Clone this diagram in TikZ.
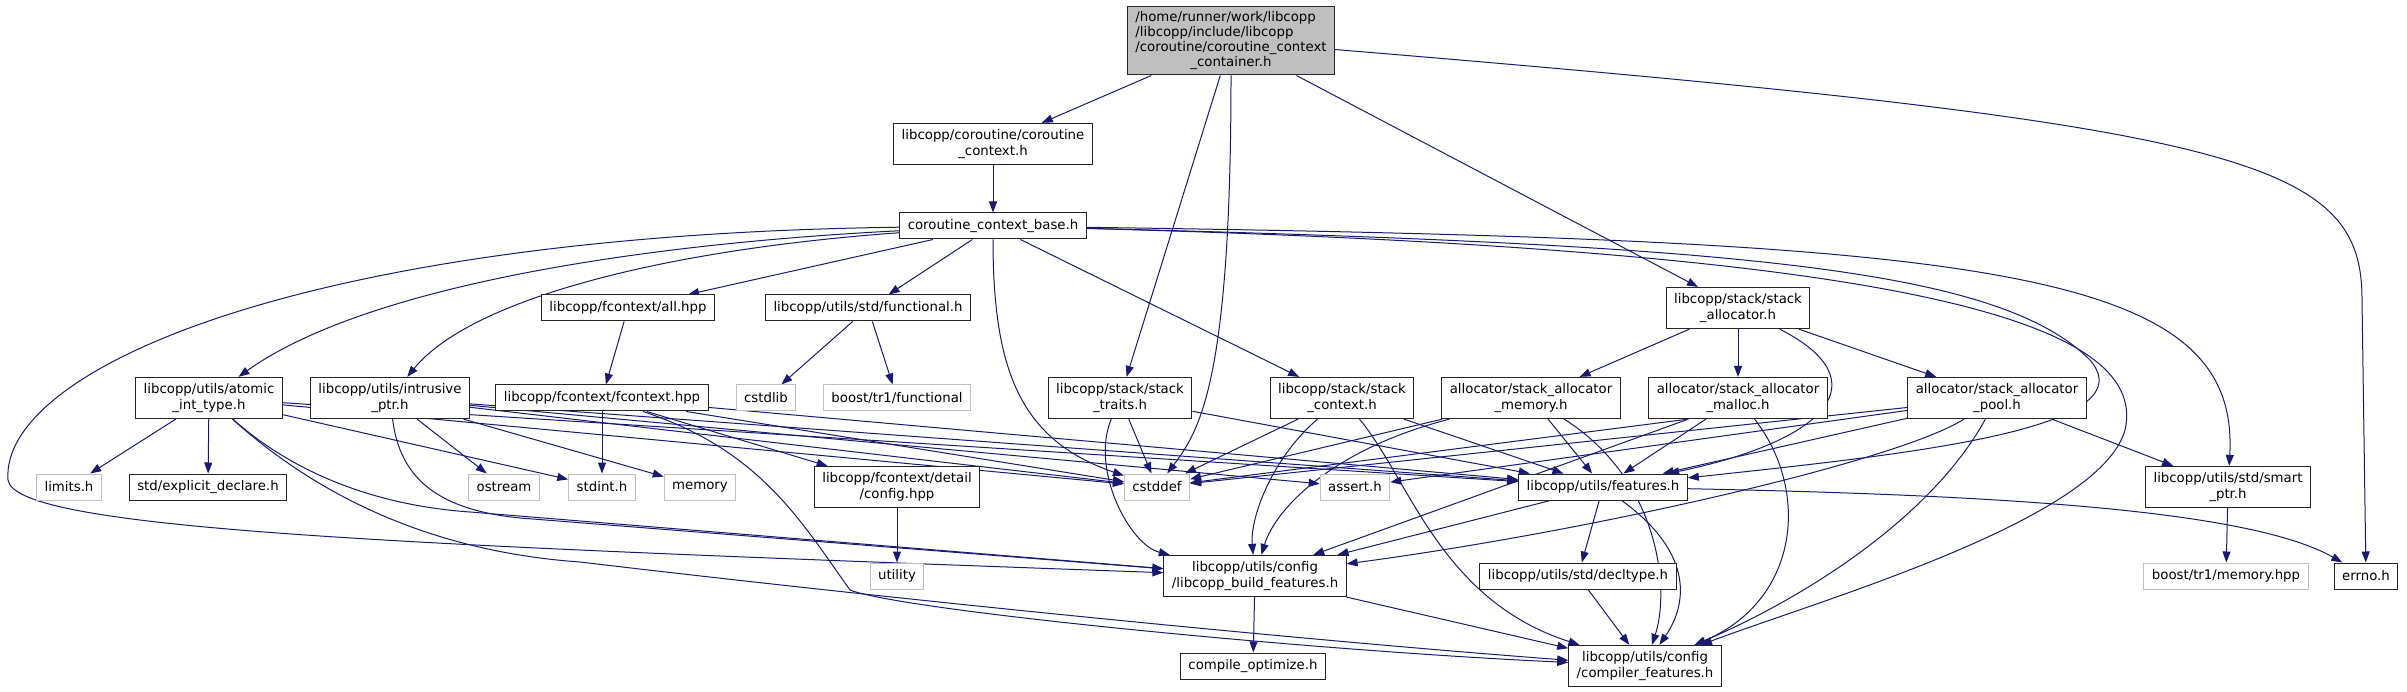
\documentclass[tikz,border=0pt]{standalone}
\usepackage{fontspec}
\setmainfont{DejaVu Sans}
\usepackage{tikz}
\usetikzlibrary{arrows.meta,backgrounds}

\definecolor{navy}{HTML}{191970}
\tikzset{
  inc/.style={draw=black!85, line width=1pt, fill=white, inner xsep=8pt, inner ysep=6pt,
    minimum height=26pt, align=center, font=\fontsize{13.3}{16}\selectfont},
  sys/.style={inc, draw=gray!50},
  rootnode/.style={inc, fill=gray!50, inner ysep=4pt, font=\fontsize{13.3}{15}\selectfont},
  edge/.style={draw=navy, line width=1pt, -{Triangle[length=11pt,width=8pt]}}
}

\begin{document}
\begin{tikzpicture}[x=1pt, y=-1pt]
            \useasboundingbox (0,0) rectangle (2407,692);

            % Top
            \node[rootnode] (root) at (1231,41) {\begin{tabular}{@{}l@{}}/home/runner/work/libcopp\\/libcopp/include/libcopp\\/coroutine/coroutine\_context\\\multicolumn{1}{@{}c@{}}{\_container.h}\end{tabular}};
            \node[inc] (ctx) at (993,144) {libcopp/coroutine/coroutine\\\_context.h};
            \node[inc] (ctxbase) at (993,226) {coroutine\_context\_base.h};

            % Second row
            \node[inc] (allhpp) at (628,308) {libcopp/fcontext/all.hpp};
            \node[inc] (functional) at (868,308) {libcopp/utils/std/functional.h};
            \node[inc] (stackalloc) at (1738,308) {libcopp/stack/stack\\\_allocator.h};

            % Third row
            \node[inc] (atomicint) at (209,398) {libcopp/utils/atomic\\\_int\_type.h};
            \node[inc] (intrusive) at (390,398) {libcopp/utils/intrusive\\\_ptr.h};
            \node[inc] (fcontext) at (602,398) {libcopp/fcontext/fcontext.hpp};
            \node[sys] (cstdlib) at (766,398) {cstdlib};
            \node[sys] (boostfunc) at (897,398) {boost/tr1/functional};
            \node[inc] (stacktraits) at (1120,398) {libcopp/stack/stack\\\_traits.h};
            \node[inc] (stackctx) at (1342,398) {libcopp/stack/stack\\\_context.h};
            \node[inc] (allocmem) at (1531,398) {allocator/stack\_allocator\\\_memory.h};
            \node[inc] (allocmalloc) at (1738,398) {allocator/stack\_allocator\\\_malloc.h};
            \node[inc] (allocpool) at (1997,398) {allocator/stack\_allocator\\\_pool.h};

            % Fourth row
            \node[sys] (limits) at (69,487) {limits.h};
            \node[inc] (explicitdecl) at (208,487) {std/explicit\_declare.h};
            \node[sys] (ostream) at (504,487) {ostream};
            \node[sys] (stdint) at (602,487) {stdint.h};
            \node[sys] (memory) at (700,487) {memory};
            \node[inc] (detailcfg) at (897,487) {libcopp/fcontext/detail\\/config.hpp};
            \node[sys] (cstddef) at (1157,487) {cstddef};
            \node[sys] (assert) at (1355,487) {assert.h};
            \node[inc] (features) at (1603,487) {libcopp/utils/features.h};
            \node[inc] (smartptr) at (2228,487) {libcopp/utils/std/smart\\\_ptr.h};

            % Fifth row
            \node[sys] (utility) at (897,576) {utility};
            \node[inc] (buildfeat) at (1255,576) {libcopp/utils/config\\/libcopp\_build\_features.h};
            \node[inc] (decltype) at (1578,576) {libcopp/utils/std/decltype.h};
            \node[sys] (boostmem) at (2226,576) {boost/tr1/memory.hpp};
            \node[inc] (errno) at (2366,576) {errno.h};

            % Bottom
            \node[inc] (compopt) at (1253,666) {compile\_optimize.h};
            \node[inc] (compfeat) at (1645,666) {libcopp/utils/config\\/compiler\_features.h};

            \begin{scope}[on background layer]
            % Root includes
            \draw[edge] (root) -- (ctx);
            \draw[edge] (root) -- (stacktraits);
            \draw[edge] (root) .. controls (1231,380) and (1200,430) .. (cstddef);
            \draw[edge] (root) -- (stackalloc);
            \draw[edge] (root) .. controls (2250,125) and (2362,160) .. (2362,300) -- (errno);
            \draw[edge] (ctx) -- (ctxbase);

            % coroutine_context_base.h
            \draw[edge] (ctxbase) -- (allhpp);
            \draw[edge] (ctxbase) -- (functional);
            \draw[edge] (ctxbase) .. controls (620,245) and (360,290) .. (atomicint);
            \draw[edge] (ctxbase) .. controls (660,250) and (470,300) .. (intrusive);
            \draw[edge] (ctxbase) .. controls (300,235) and (0,370) .. (8,480) .. controls (15,530) and (400,545) .. (buildfeat);
            \draw[edge] (ctxbase) .. controls (993,370) and (1020,440) .. (cstddef);
            \draw[edge] (ctxbase) -- (stackctx);
            \draw[edge] (ctxbase) .. controls (1750,245) and (2000,270) .. (2090,360) .. controls (2150,430) and (1900,455) .. (features);
            \draw[edge] (ctxbase) .. controls (2000,240) and (2240,270) .. (smartptr);
            \draw[edge] (ctxbase) .. controls (1900,250) and (2150,320) .. (2125,430) .. controls (2100,520) and (1820,600) .. (compfeat);
            \draw[edge] (allhpp) -- (fcontext);
            \draw[edge] (functional) -- (cstdlib);
            \draw[edge] (functional) -- (boostfunc);

            % atomic_int_type.h, intrusive_ptr.h
            \draw[edge] (atomicint) -- (limits);
            \draw[edge] (atomicint) -- (explicitdecl);
            \draw[edge] (atomicint) -- (stdint);
            \draw[edge] (atomicint) -- (cstddef);
            \draw[edge] (atomicint) -- (features);
            \draw[edge] (atomicint) .. controls (290,470) and (370,505) .. (470,512) -- (buildfeat);
            \draw[edge] (atomicint) .. controls (300,480) and (410,550) .. (580,562) .. controls (900,600) and (1300,640) .. (compfeat);
            \draw[edge] (intrusive) -- (ostream);
            \draw[edge] (intrusive) -- (memory);
            \draw[edge] (intrusive) -- (cstddef);
            \draw[edge] (intrusive) -- (assert);
            \draw[edge] (intrusive) -- (features);
            \draw[edge] (intrusive) .. controls (400,480) and (440,510) .. (520,518) -- (buildfeat);

            % fcontext.hpp
            \draw[edge] (fcontext) -- (stdint);
            \draw[edge] (fcontext) -- (detailcfg);
            \draw[edge] (fcontext) -- (cstddef);
            \draw[edge] (fcontext) -- (features);
            \draw[edge] (fcontext) .. controls (760,450) and (800,520) .. (850,590) .. controls (900,610) and (1300,650) .. (compfeat);
            \draw[edge] (detailcfg) -- (utility);

            % stack headers
            \draw[edge] (stacktraits) -- (cstddef);
            \draw[edge] (stacktraits) -- (features);
            \draw[edge] (stacktraits) .. controls (1090,470) and (1130,545) .. (buildfeat);
            \draw[edge] (stackctx) -- (cstddef);
            \draw[edge] (stackctx) -- (features);
            \draw[edge] (stackctx) .. controls (1270,460) and (1250,520) .. (buildfeat);
            \draw[edge] (stackctx) .. controls (1410,480) and (1440,600) .. (compfeat);
            \draw[edge] (stackalloc) -- (allocmem);
            \draw[edge] (stackalloc) -- (allocmalloc);
            \draw[edge] (stackalloc) -- (allocpool);
            \draw[edge] (stackalloc) .. controls (1880,380) and (1830,440) .. (features);

            % allocators
            \draw[edge] (allocmem) -- (cstddef);
            \draw[edge] (allocmem) -- (features);
            \draw[edge] (allocmem) .. controls (1330,450) and (1275,510) .. (buildfeat);
            \draw[edge] (allocmem) .. controls (1660,480) and (1670,590) .. (compfeat);
            \draw[edge] ([xshift=40pt]allocmalloc.south west) -- (cstddef);
            \draw[edge] (allocmalloc) -- (features);
            \draw[edge] ([xshift=40pt]allocmalloc.south west) -- (buildfeat);
            \draw[edge] (allocmalloc) .. controls (1810,490) and (1800,600) .. (compfeat);
            \draw[edge] (allocpool) -- (cstddef);
            \draw[edge] (allocpool) -- (assert);
            \draw[edge] (allocpool) -- (features);
            \draw[edge] (allocpool) -- (smartptr);
            \draw[edge] (allocpool) .. controls (1900,460) and (1600,530) .. (buildfeat);
            \draw[edge] (allocpool) .. controls (1930,520) and (1800,600) .. (compfeat);

            % utils
            \draw[edge] (features) .. controls (2000,495) and (2250,510) .. (errno);
            \draw[edge] (features) -- (decltype);
            \draw[edge] (features) -- (buildfeat);
            \draw[edge] (features) .. controls (1690,550) and (1690,600) .. (compfeat);
            \draw[edge] (decltype) -- (compfeat);
            \draw[edge] (buildfeat) -- (compopt);
            \draw[edge] (buildfeat) -- (compfeat);
            \draw[edge] (smartptr) -- (boostmem);
            \end{scope}

        \end{tikzpicture}
\end{document}
